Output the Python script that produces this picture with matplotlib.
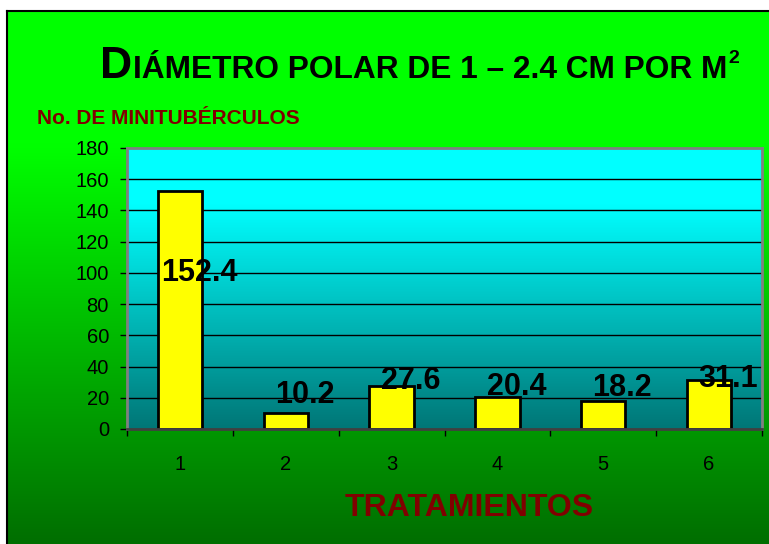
import numpy as np
import matplotlib
matplotlib.use('Agg')
import matplotlib.pyplot as plt
from matplotlib.colors import LinearSegmentedColormap

# datos
tratamientos = ['1', '2', '3', '4', '5', '6']
valores = [152.4, 10.2, 27.6, 20.4, 18.2, 31.1]
# altura de las etiquetas (como en el original de Excel)
pos_etiquetas = [100, 22, 31, 27, 26, 32]
yticks = list(range(0, 181, 20))

plt.rcParams['font.family'] = ['Liberation Sans', 'DejaVu Sans']

W, H = 769, 544
fig = plt.figure(figsize=(W / 100, H / 100), dpi=100)
fig.patch.set_facecolor('white')

# fondo verde con degradado
bg = fig.add_axes([7 / W, 0, 1 - 7 / W, 1 - 11 / H])
verde = LinearSegmentedColormap.from_list(
    'verde', [(0, '#006e00'), (0.75, '#00ff00'), (1, '#00ff00')])
bg.imshow(np.linspace(0, 1, 256).reshape(-1, 1), aspect='auto', cmap=verde,
          origin='lower', extent=[0, 1, 0, 1])
bg.set_xlim(0, 1)
bg.set_ylim(0, 1)
bg.axis('off')
fig.add_artist(plt.Line2D([7 / W, 7 / W], [0, 1 - 11 / H], color='black', lw=1.5))
fig.add_artist(plt.Line2D([7 / W, 1], [1 - 11 / H, 1 - 11 / H], color='black', lw=1.5))

# area del grafico
ax = fig.add_axes([127 / W, 115 / H, 635 / W, 281 / H])
x = np.arange(1, len(valores) + 1)
ax.set_xlim(0.5, 6.5)
ax.set_ylim(0, 180)
cian = LinearSegmentedColormap.from_list(
    'cian', [(0, '#007676'), (0.8, '#00ffff'), (1, '#00ffff')])
ax.imshow(np.linspace(0, 1, 256).reshape(-1, 1), aspect='auto', cmap=cian,
          origin='lower', extent=[0.5, 6.5, 0, 180], zorder=0)

for yv in yticks[1:-1]:
    ax.axhline(yv, color='black', lw=1, zorder=1)

ax.bar(x, valores, width=0.42, color='#ffff00', edgecolor='black', lw=2, zorder=2)

for xi, v, py in zip(x, valores, pos_etiquetas):
    ax.text(xi + 0.18, py, f'{v:.1f}', ha='center', va='center',
            fontsize=22, fontweight='bold', color='black', zorder=3)

for s in ax.spines.values():
    s.set_color('#808080')
    s.set_linewidth(2)
ax.spines['bottom'].set_color('#404040')

ax.set_yticks(yticks)
ax.tick_params(axis='y', labelsize=14.5, length=5, width=1, pad=8, colors='black')
ax.set_xticks(x)
ax.set_xticklabels(tratamientos)
ax.set_xticks(np.arange(0.5, 7, 1), minor=True)
ax.tick_params(axis='x', which='major', length=0, labelsize=14.5, pad=19)
ax.tick_params(axis='x', which='minor', length=5, width=1)

# etiquetas de ejes
fig.text(37 / W, 1 - 118 / H, 'No. DE MINITUBÉRCULOS', color='#800000',
         fontsize=15, fontweight='bold', ha='left', va='center')
fig.text(469 / W, 1 - 508 / H, 'TRATAMIENTOS', color='#800000',
         fontsize=23, fontweight='bold', ha='center', va='center')

# titulo en versalitas
fig.canvas.draw()
r = fig.canvas.get_renderer()
fam = ['Liberation Sans', 'DejaVu Sans']
partes = [('D', 32, 0, 1), ('IÁMETRO POLAR DE 1 – 2.4 CM POR M', 22.8, 0, 1), ('2', 14, 15, 0)]
xp = 100
for txt, fs, up, gap in partes:
    t = fig.text(xp / W, (H - 78 + up) / H, txt, fontsize=fs, fontweight='bold',
                 family=fam, ha='left', va='baseline', color='black')
    bb = t.get_window_extent(renderer=r)
    xp = bb.x1 + gap

fig.savefig('out.png', dpi=100, facecolor=fig.get_facecolor())
